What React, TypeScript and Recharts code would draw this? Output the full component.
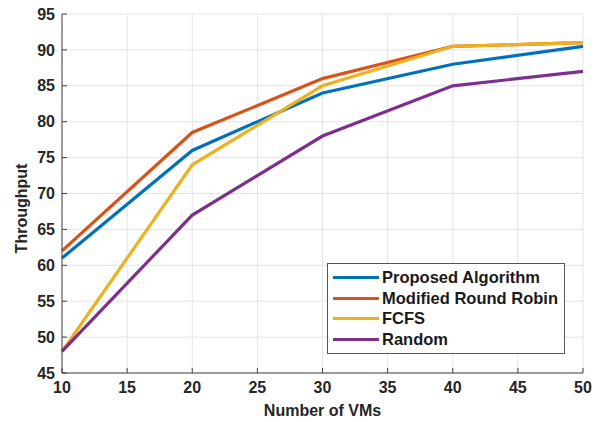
import { LineChart, Line, XAxis, YAxis, CartesianGrid, Label } from 'recharts'

const vms = [10, 20, 30, 40, 50]
const proposed = [61, 76, 84, 88, 90.5]
const modifiedRR = [62, 78.5, 86, 90.5, 91]
const fcfs = [48, 74, 85, 90.5, 91]
const random = [48, 67, 78, 85, 87]

const xTicks = [10, 15, 20, 25, 30, 35, 40, 45, 50]
const yTicks = [45, 50, 55, 60, 65, 70, 75, 80, 85, 90, 95]

const SERIES = [
  { key: 'proposed', name: 'Proposed Algorithm', color: '#0072BD' },
  { key: 'modifiedRR', name: 'Modified Round Robin', color: '#D95319' },
  { key: 'fcfs', name: 'FCFS', color: '#EDB120' },
  { key: 'random', name: 'Random', color: '#7E2F8E' },
]

const data = vms.map((v, i) => ({
  vms: v,
  proposed: proposed[i],
  modifiedRR: modifiedRR[i],
  fcfs: fcfs[i],
  random: random[i],
}))

const FONT = '"Liberation Sans", Arial, sans-serif'
const AXIS_COLOR = '#444'
const TICK = { fill: '#262626', fontSize: 16, fontWeight: 700, fontFamily: FONT }

// legend drawn as an overlay so it doesn't eat into the plot margins
function LegendBox() {
  return (
    <div style={{
      position: 'absolute', left: 327, top: 263,
      border: '1px solid #555', background: '#fff', padding: '3px 6px 3px 5px',
      fontFamily: FONT, fontWeight: 700, fontSize: 16.5, color: '#1a1a1a', lineHeight: '20.7px',
    }}>
      {SERIES.map(s => (
        <div key={s.key} style={{ display: 'flex', alignItems: 'center' }}>
          <span style={{ display: 'inline-block', width: 46, height: 3, background: s.color, marginRight: 3 }} />
          {s.name}
        </div>
      ))}
    </div>
  )
}

export default function App() {
  return (
    <div style={{ position: 'absolute', left: 0, top: 0, width: 596, height: 422, background: '#fff' }}>
      <LineChart width={596} height={422} data={data} margin={{ top: 14, right: 13, bottom: 0, left: 0 }}>
        <CartesianGrid stroke="#e3e3e3" strokeWidth={1} />
        <XAxis
          dataKey="vms" type="number" domain={[10, 50]} ticks={xTicks}
          height={49} tick={TICK} tickSize={-5} tickMargin={14}
          axisLine={{ stroke: AXIS_COLOR }} tickLine={{ stroke: AXIS_COLOR }}
        >
          <Label value="Number of VMs" position="insideBottom" offset={6}
            style={{ fill: '#262626', fontSize: 16, fontWeight: 700, fontFamily: FONT }} />
        </XAxis>
        <XAxis xAxisId="top" dataKey="vms" type="number" domain={[10, 50]} ticks={xTicks}
          orientation="top" height={0} tick={false} tickSize={-5}
          axisLine={{ stroke: AXIS_COLOR }} tickLine={{ stroke: AXIS_COLOR }} />
        <YAxis
          type="number" domain={[45, 95]} ticks={yTicks} width={62}
          tick={TICK} tickSize={-5} tickMargin={12}
          axisLine={{ stroke: AXIS_COLOR }} tickLine={{ stroke: AXIS_COLOR }}
        >
          <Label value="Throughput" angle={-90} position="insideLeft" offset={21} dy={15}
            style={{ textAnchor: 'middle', fill: '#262626', fontSize: 16, fontWeight: 700, fontFamily: FONT }} />
        </YAxis>
        <YAxis yAxisId="right" type="number" domain={[45, 95]} ticks={yTicks}
          orientation="right" width={0} tick={false} tickSize={-5}
          axisLine={{ stroke: AXIS_COLOR }} tickLine={{ stroke: AXIS_COLOR }} />
        {SERIES.map(s => (
          <Line key={s.key} type="linear" dataKey={s.key} name={s.name} stroke={s.color}
            strokeWidth={3.2} dot={false} isAnimationActive={false} />
        ))}
      </LineChart>
      <LegendBox />
    </div>
  )
}
